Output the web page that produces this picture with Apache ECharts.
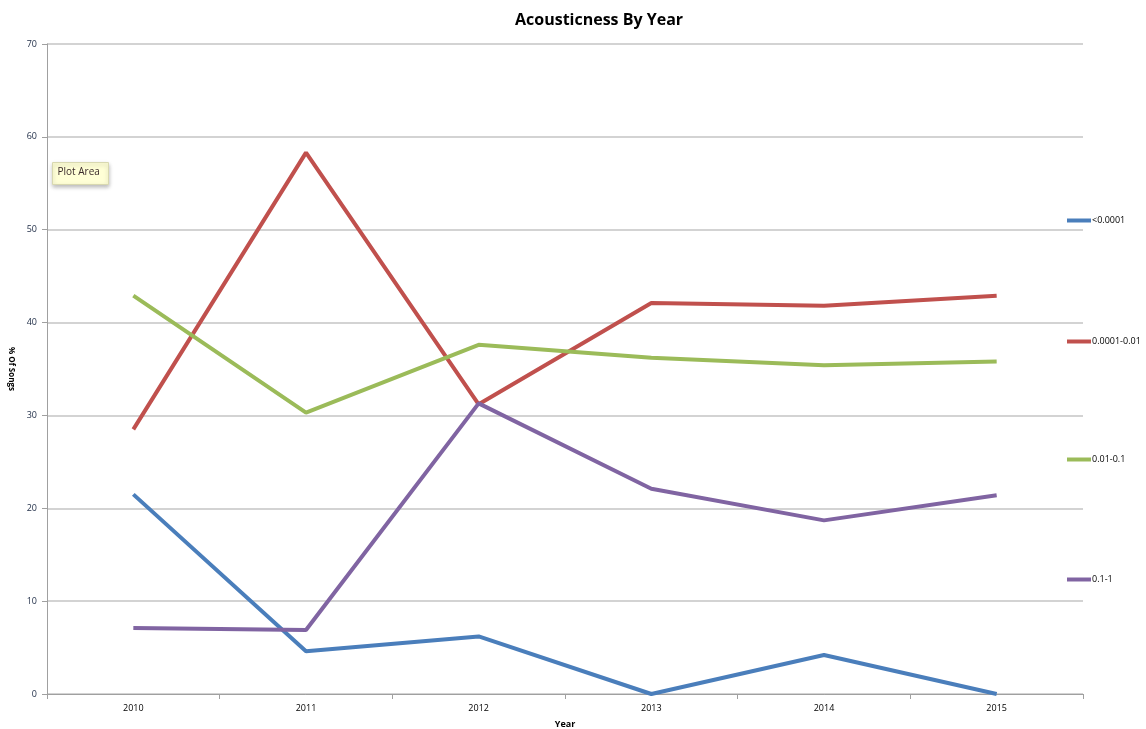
<!DOCTYPE html>
<html>
<head>
<meta charset="utf-8">
<script src="https://cdn.jsdelivr.net/npm/echarts@6/dist/echarts.min.js"></script>
<style>
  html, body { margin: 0; padding: 0; background: #fff; }
  #chart { width: 1146px; height: 729px; }
</style>
</head>
<body>
<div id="chart"></div>
<script>
// Share of songs (%) in each acousticness band, by year
const years = ['2010', '2011', '2012', '2013', '2014', '2015'];
const bandNames = ['<0.0001', '0.0001-0.01', '0.01-0.1', '0.1-1'];
const bandVeryLow = [21.5, 4.6, 6.2, 0, 4.2, 0];
const bandLow = [28.5, 58.3, 31.2, 42.1, 41.8, 42.9];
const bandMid = [42.9, 30.3, 37.6, 36.2, 35.4, 35.8];
const bandHigh = [7.1, 6.9, 31.3, 22.1, 18.7, 21.4];
const yTicks = [0, 10, 20, 30, 40, 50, 60, 70];

const bandValues = [bandVeryLow, bandLow, bandMid, bandHigh];
const colors = ['#4A7EBB', '#C0504D', '#9BBB59', '#8064A2'];
const legendTops = [211, 332, 450, 570];
const font = '"Open Sans", "Liberation Sans", sans-serif';

const chart = echarts.init(document.getElementById('chart'));

chart.setOption({
  animation: false,
  title: {
    text: 'Acousticness By Year',
    left: 510,
    top: 7,
    textStyle: { fontFamily: font, fontSize: 16, fontWeight: 'bold', color: '#000' }
  },
  // one legend block per band, spread down the right side
  legend: bandNames.map((name, i) => ({
    data: [name],
    left: 1062,
    top: legendTops[i],
    orient: 'vertical',
    icon: 'rect',
    itemWidth: 24,
    itemHeight: 4,
    itemGap: 2,
    selectedMode: false,
    textStyle: { fontFamily: font, fontSize: 9, color: '#000', padding: [0, 0, 0, -4] }
  })),
  grid: { left: 47, right: 63, top: 44, bottom: 35, containLabel: false, outerBoundsMode: 'none' },
  xAxis: {
    type: 'category',
    data: years,
    boundaryGap: true,
    name: 'Year',
    nameLocation: 'middle',
    nameGap: 26,
    nameTextStyle: { fontFamily: font, fontSize: 9, fontWeight: 'bold', color: '#000' },
    axisLine: { lineStyle: { color: '#a0a0a0', width: 1 } },
    axisTick: { show: true, length: 5, lineStyle: { color: '#a0a0a0' } },
    axisLabel: { fontFamily: font, fontSize: 9, color: '#000', margin: 10 },
    splitLine: { show: false }
  },
  yAxis: {
    type: 'value',
    min: 0,
    max: 70,
    interval: 10,
    name: '% Of Songs',
    nameLocation: 'middle',
    nameRotate: -90,
    nameGap: 32,
    nameTextStyle: { fontFamily: font, fontSize: 8, fontWeight: 'bold', color: '#000' },
    axisLine: { show: true, lineStyle: { color: '#a0a0a0', width: 1 } },
    axisTick: { show: true, length: 5, inside: false, lineStyle: { color: '#a0a0a0' } },
    axisLabel: {
      fontFamily: font, fontSize: 9, color: '#1c2a44', margin: 10,
      formatter: v => (yTicks.includes(v) ? String(v) : '')
    },
    splitLine: { show: true, lineStyle: { color: '#c4c4c4', width: 1.5 } }
  },
  series: bandNames.map((name, i) => ({
    name,
    type: 'line',
    data: bandValues[i],
    symbol: 'none',
    lineStyle: { color: colors[i], width: 4 },
    itemStyle: { color: colors[i] },
    z: 2 + i
  })),
  graphic: [
    {
      type: 'group',
      left: 52,
      top: 162,
      children: [
        {
          type: 'rect',
          shape: { x: 0, y: 0, width: 56, height: 22 },
          style: {
            fill: '#FFFFD6',
            stroke: '#d8d8b0',
            lineWidth: 1,
            shadowBlur: 4,
            shadowOffsetY: 2,
            shadowColor: 'rgba(0,0,0,0.25)'
          }
        },
        {
          type: 'text',
          x: 5,
          y: 5,
          style: { text: 'Plot Area', fontFamily: font, fontSize: 10, fill: '#3a2a2a' }
        }
      ]
    }
  ]
});
</script>
</body>
</html>
